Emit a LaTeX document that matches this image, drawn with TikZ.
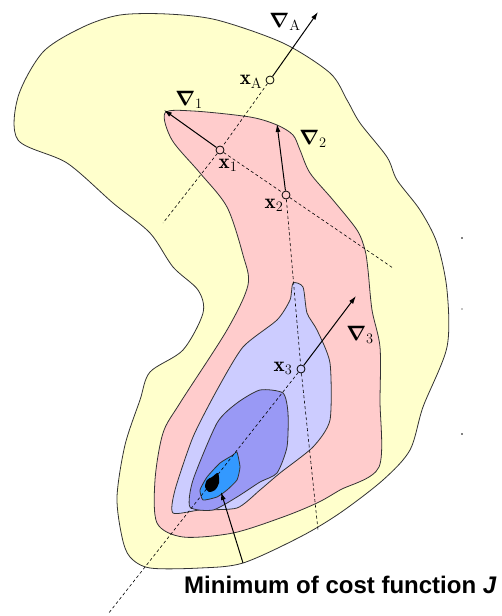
\documentclass[tikz,border=0pt]{standalone}
\usepackage{amsmath}
\usepackage{bm}
\usepackage{fontspec}
\newfontfamily\arialfont{Liberation Sans}
\usetikzlibrary{arrows.meta}
\definecolor{cyellow}{HTML}{FFFFCC}
\definecolor{cpink}{HTML}{FFCCCC}
\definecolor{clav}{HTML}{CCCCFF}
\definecolor{cmed}{HTML}{9999F5}
\definecolor{cblue}{HTML}{3399FF}
\definecolor{cline}{HTML}{333333}
\begin{document}
\begin{tikzpicture}[x=1pt,y=-1pt,
  region/.style={draw=cline,line width=0.8pt},
  dashline/.style={dashed,dash pattern=on 3pt off 2.5pt,line width=0.6pt},
  grad/.style={line width=1pt,-{Latex[length=8pt,width=5pt]}},
  pt/.style={circle,draw,line width=0.8pt,inner sep=0pt,minimum size=8pt},
  lab/.style={inner sep=0pt,font=\fontsize{21}{24}\selectfont}]
\useasboundingbox (0,0) rectangle (502,616);
% yellow region
\draw[region,fill=cyellow] plot[smooth cycle,tension=0.5] coordinates {
 (18,140) (18,97) (43,52) (83,27) (120,15) (167,14) (217,20) (283,43) (330,73)
 (347,100) (360,123) (387,157) (397,180) (420,210) (437,243) (447,290) (447,347)
 (423,407) (410,450) (383,480) (340,513) (300,537) (243,563) (200,568) (150,568)
 (130,557) (122,537) (117,497) (125,445) (140,400) (150,372) (183,350) (203,313)
 (198,290) (173,267) (150,233) (113,203) (67,163)};
% pink region
\draw[region,fill=cpink] plot[smooth cycle,tension=0.5] coordinates {
 (165,113) (193,111) (250,117) (277,125) (293,135) (300,150) (310,173) (333,200)
 (357,230) (365,250) (368,270) (372,310) (380,347) (380,400) (379,467) (340,490)
 (317,503) (283,517) (233,533) (183,537) (157,523) (155,480) (163,433) (180,403)
 (227,330) (248,285) (243,255) (227,207) (200,173) (172,140)};
% lavender region
\draw[region,fill=clav] plot[smooth cycle,tension=0.4] coordinates {
 (293,283) (303,287) (307,313) (317,330) (330,363) (330,420) (313,447) (280,473)
 (260,490) (237,508) (200,510) (173,513) (175,490) (193,437) (217,390) (243,347)
 (277,320) (290,300)};
% medium region
\draw[region,fill=cmed] plot[smooth cycle,tension=0.4] coordinates {
 (260,390) (283,393) (288,413) (287,447) (277,473) (260,482) (237,497) (213,510)
 (190,507) (193,480) (217,423) (237,403)};
% bright blue region
\draw[region,fill=cblue] plot[smooth cycle,tension=0.3] coordinates {
 (237,452) (240,467) (237,480) (227,490) (217,497) (203,500) (200,490) (207,477)
 (220,463) (233,455)};
% black minimum blob
\fill[black] plot[smooth cycle,tension=0.5] coordinates {
 (218,473) (219,483) (215,490) (209,492) (205,487) (207,480) (212,477)};
% points
\node[pt] (xA) at (270,80) {};
\node[pt] (x1) at (220,150) {};
\node[pt] (x2) at (286,195) {};
\node[pt] (x3) at (301,369) {};
\coordinate (dA) at (163,223);
\coordinate (d12) at (393,268);
\coordinate (d23) at (318,530);
\coordinate (dmin) at (108,614);
\coordinate (gA) at (318,12);
\coordinate (g1) at (164,110);
\coordinate (g2) at (277,124);
\coordinate (g3) at (356,296);
% dashed search lines
\draw[dashline] (xA) -- (x1);
\draw[dashline] (x1) -- (dA);
\draw[dashline] (x1) -- (x2);
\draw[dashline] (x2) -- (d12);
\draw[dashline] (x2) -- (x3);
\draw[dashline] (x3) -- (d23);
\draw[dashline] (x3) -- (dmin);
% gradients
\draw[grad] (xA) -- (gA);
\draw[grad] (x1) -- (g1);
\draw[grad] (x2) -- (g2);
\draw[grad] (x3) -- (g3);
% labels
\node[lab] (lgA) at (285,22) {$\bm{\nabla}_{\mathrm{A}}$};
\node[lab] (lxA) at (251,82) {$\mathbf{x}_{\mathrm{A}}$};
\node[lab] (lg1) at (189,100) {$\bm{\nabla}_{1}$};
\node[lab] (lx1) at (228,165) {$\mathbf{x}_{1}$};
\node[lab] (lg2) at (313,139) {$\bm{\nabla}_{2}$};
\node[lab] (lx2) at (274,205) {$\mathbf{x}_{2}$};
\node[lab] (lg3) at (360,335) {$\bm{\nabla}_{3}$};
\node[lab] (lx3) at (283,368) {$\mathbf{x}_{3}$};
% minimum caption
\node[inner sep=0pt,anchor=base west,font=\arialfont\bfseries\fontsize{24}{28}\selectfont] (cap) at (184,593) {Minimum of cost function \textit{J}};
\coordinate (mtip) at (221,492);
\draw[grad] (243,563) -- (mtip);
% specks
\fill (462,238) circle (0.8pt);
\fill (462,309) circle (0.6pt);
\fill (462,434) circle (0.8pt);
\end{tikzpicture}
\end{document}
